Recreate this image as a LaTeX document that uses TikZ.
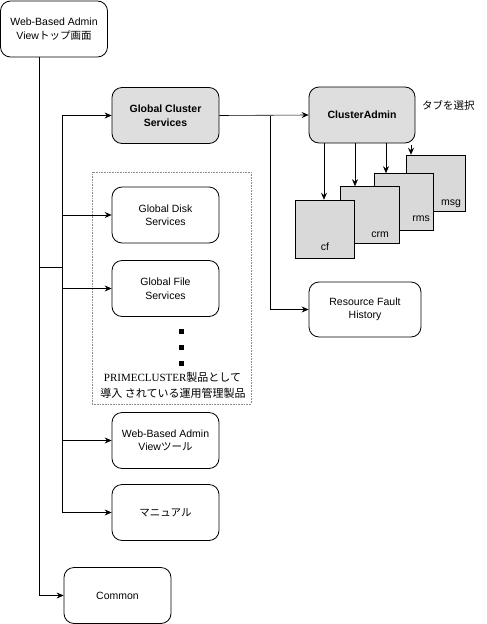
\documentclass[tikz,border=0pt]{standalone}
\usepackage{fontspec}
\setmainfont{Liberation Sans}
\newfontfamily\jp{Noto Sans CJK JP}
\newfontfamily\tnr{Liberation Serif}
\usetikzlibrary{arrows.meta}
\begin{document}
\begin{tikzpicture}[x=1pt,y=-1pt,
  every node/.style={font=\fontsize{10.5}{13.5}\selectfont, inner sep=0pt},
  box/.style={draw, line width=0.8pt, rounded corners=10pt, align=center, minimum width=107, minimum height=56},
  gbox/.style={box, fill=black!13},
  tab/.style={draw, line width=0.6pt, fill=black!15, minimum width=59, minimum height=57},
  arr/.style={-{Stealth[length=7pt,width=6pt,inset=2.5pt]}, line width=0.6pt},
  ln/.style={line width=0.6pt},
  dotsq/.style={fill=black, minimum size=5pt}]
\useasboundingbox (0,0) rectangle (487,624);

% group frame
\node[draw=black!45, densely dotted, line width=0.6pt, minimum width=159, minimum height=232] (grp) at (171.5,288) {};

% nodes
\node[box] (top) at (54,29) {Web-Based Admin\\View{\jp トップ画面}};
\node[gbox, font=\fontsize{10.5}{13.5}\selectfont\bfseries] (gcs) at (165.5,115.5) {Global Cluster\\Services};
\node[box] (gds) at (165.5,215) {Global Disk\\Services};
\node[box] (gfs) at (165.5,288.5) {Global File\\Services};
\node[box] (wbt) at (165.5,440.5) {Web-Based Admin\\View{\jp ツール}};
\node[box] (man) at (165.5,512.5) {\jp マニュアル};
\node[box] (com) at (117.5,595.5) {Common};
\node[gbox, minimum width=106, font=\fontsize{10.5}{13.5}\selectfont\bfseries] (ca) at (362,115) {ClusterAdmin};
\node[box, minimum width=112, minimum height=55] (rfh) at (365,309.5) {Resource Fault\\History};
\node[anchor=west, font=\fontsize{10.5}{13.5}\selectfont\jp] (sel) at (422,105) {タブを選択};

% tabs (back to front)
\node[tab, minimum height=56] (msg) at (435.5,183) {};
\node[tab] (rms) at (403.5,202) {};
\node[tab] (crm) at (369.5,215) {};
\node[tab, minimum height=58] (cf) at (324.5,229) {};
\node at (451,204) {msg};
\node at (421,219) {rms};
\node at (380,235) {crm};
\node at (325,247) {cf};

% dots and text in group
\node[dotsq] (d1) at (181,331) {};
\node[dotsq] (d2) at (181,347) {};
\node[dotsq] (d3) at (181,363) {};
\node[font=\fontsize{11}{13.5}\selectfont] (t1) at (172.5,377) {{\tnr PRIMECLUSTER}{\jp 製品として}};
\node[font=\fontsize{11}{13.5}\selectfont] (t2) at (173,393) {\jp 導入 されている運用管理製品};

% connectors
\coordinate (sp) at (39,57);
\coordinate (bx) at (62,267);
\coordinate (j) at (39,267);
\coordinate (b2) at (270,116);
\draw[arr] (sp) |- (com.west);
\draw[ln] (j) -- (bx);
\draw[ln] (gcs.west -| bx) -- (man.west -| bx);
\foreach \n in {gcs,gds,gfs,wbt,man}
  \draw[arr] (\n.west -| bx) -- (\n.west);
\draw[arr] (gcs.east) -- (ca.west);
\draw[arr] (b2) |- (rfh.west);

\coordinate (xcf) at (324,143);
\coordinate (xcrm) at (355,143);
\coordinate (xrms) at (386,143);
\coordinate (xmsg) at (411,145);
\draw[arr] (xcf) -- (xcf |- cf.north);
\draw[arr] (xcrm) -- (xcrm |- crm.north);
\draw[arr] (xrms) -- (xrms |- rms.north);
\draw[arr] (xmsg) -- (xmsg |- msg.north);
\end{tikzpicture}
\end{document}
